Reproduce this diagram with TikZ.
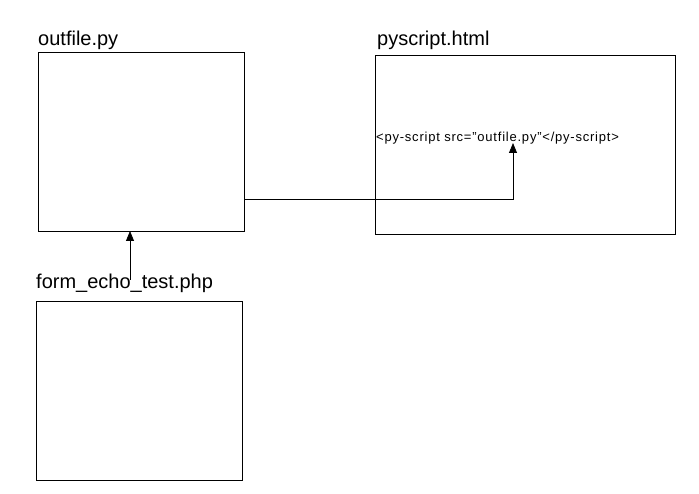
\documentclass[tikz,border=0pt]{standalone}
\usepackage{fontspec}
\setmainfont{Liberation Sans}
\usetikzlibrary{arrows.meta}
\begin{document}
\begin{tikzpicture}[x=1pt,y=-1pt,
  box/.style={draw,line width=0.8pt},
  lbl/.style={anchor=base west,inner sep=0pt,font=\fontsize{20}{22}\selectfont},
  conn/.style={line width=0.8pt,-{Triangle[length=10pt,width=8pt]}}]
\useasboundingbox[fill=white] (0,0) rectangle (699,494);
\draw[box] (38,52) rectangle (244,231);
\coordinate (outR) at (244,199);
\coordinate (outB) at (130,231);
\draw[box] (375,55) rectangle (675,234);
\draw[box] (36,301) rectangle (242,480);
\coordinate (formT) at (130,301);
\node[lbl] (l1) at (38,46) {outfile.py};
\node[lbl] (l2) at (377,46) {pyscript.html};
\node[lbl] (l3) at (36,289) {form\_echo\_test.php};
\node[anchor=base west,inner sep=0pt,font=\fontsize{13}{15}\addfontfeature{LetterSpace=6}\selectfont] (tag) at (376,142) {<py-script src="outfile.py"</py-script>};
\coordinate (tip) at (513,143);
\coordinate (bend) at (513,199);
\draw[conn] (outR) -- (bend) -- (tip);
\draw[conn] (130,280) -- (outB);
\end{tikzpicture}
\end{document}
